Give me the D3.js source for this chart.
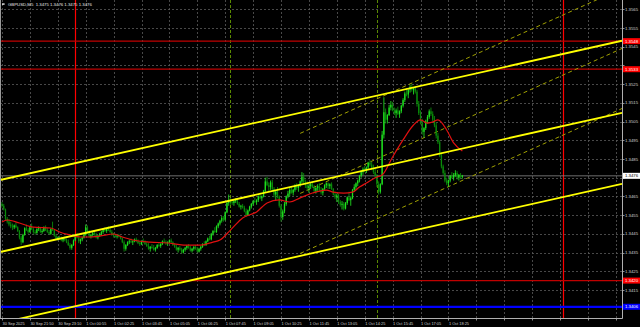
<!DOCTYPE html>
<html><head><meta charset="utf-8">
<script src="https://cdn.jsdelivr.net/npm/d3@7"></script>
<style>html,body{margin:0;padding:0;background:#000;overflow:hidden}</style>
</head><body>
<svg id="c" width="640" height="327"></svg>
<script>
// ---------------- DATA ----------------
const symbolTitle = "GBPUSD,M5  1.3475 1.3476 1.3475 1.3476";
const firstOpen = 1.3461;
const closes = [
1.3460,1.3458,1.3453,1.34515,1.3450,1.3449,1.34485,1.34495,1.34485,1.34465,
1.3443,1.34405,1.34445,1.3448,1.3447,1.3446,1.34485,1.34475,1.3446,1.34455,
1.34475,1.3448,1.3446,1.34465,1.34485,1.3447,1.3446,1.3445,1.34475,1.3447,
1.3444,1.34425,1.3443,1.34425,1.34415,1.34425,1.34415,1.34405,1.3439,1.34375,
1.3439,1.34415,1.3444,1.3443,1.3441,1.3442,1.3443,1.34445,1.34485,1.3446,
1.34435,1.34445,1.34455,1.34445,1.3443,1.3444,1.3445,1.3446,1.3447,1.34465,
1.34475,1.3447,1.3446,1.34445,1.3444,1.34435,1.3444,1.34435,1.34425,1.34405,
1.3437,1.3439,1.34405,1.3441,1.34405,1.3441,1.3442,1.3441,1.3440,1.34395,
1.3441,1.34405,1.34395,1.34385,1.3437,1.3438,1.34375,1.34365,1.34375,1.3439,
1.34385,1.34395,1.3441,1.34405,1.3440,1.34405,1.34415,1.34405,1.3439,1.3438,
1.34365,1.34375,1.34365,1.3435,1.34365,1.34375,1.34385,1.34375,1.3436,1.3437,
1.3438,1.3437,1.34355,1.3437,1.3438,1.34395,1.3439,1.3441,1.34425,1.3442,
1.3445,1.34465,1.3446,1.3449,1.34505,1.3452,1.34535,1.34525,1.34565,1.34615,
1.3463,1.3462,1.34615,1.34625,1.3463,1.3461,1.34595,1.3460,1.3459,1.3457,
1.3455,1.34575,1.34595,1.3461,1.34625,1.3462,1.3463,1.3465,1.3464,1.3465,
1.3468,1.3473,1.3471,1.3470,1.34725,1.3469,1.3466,1.34675,1.3465,1.3460,
1.3454,1.3457,1.3461,1.3465,1.34665,1.34685,1.3467,1.34685,1.34705,1.34695,
1.3471,1.3473,1.34755,1.34725,1.3471,1.34695,1.34705,1.34715,1.3470,1.3468,
1.34695,1.34705,1.34685,1.3467,1.3469,1.3471,1.3472,1.34705,1.34715,1.3469,
1.3466,1.34645,1.34655,1.3462,1.34605,1.3461,1.34585,1.34615,1.34645,1.3463,
1.3464,1.34685,1.3470,1.3472,1.34735,1.3476,1.3478,1.34795,1.3479,1.34805,
1.3483,1.3482,1.3480,1.3478,1.3476,1.34715,1.34675,1.34715,1.3498,1.3510,
1.3506,1.35085,1.35125,1.3514,1.3511,1.35095,1.3511,1.3509,1.35105,1.35135,
1.35165,1.3520,1.35195,1.3522,1.35235,1.3522,1.3523,1.3521,1.35145,1.35095,
1.35045,1.34995,1.35015,1.35055,1.35075,1.35105,1.3509,1.3506,1.3503,1.34975,
1.3494,1.3487,1.3481,1.34775,1.34735,1.3472,1.34735,1.3476,1.3475,1.34765,
1.34775,1.3475,1.34765,1.34755,1.3476];
const highs = [
1.3462,1.3461,1.34585,1.3454,1.3453,1.34515,1.34505,1.3450,1.3451,1.3449,
1.3447,1.3444,1.3445,1.34485,1.3450,1.3448,1.3449,1.34505,1.34485,1.3447,
1.3448,1.3449,1.34485,1.34475,1.3449,1.34495,1.3448,1.3447,1.3448,1.34515,
1.34475,1.3445,1.34435,1.3444,1.34435,1.3443,1.34435,1.34425,1.3442,1.3440,
1.34395,1.3442,1.34445,1.34455,1.3444,1.34425,1.34435,1.3445,1.3450,1.34495,
1.3447,1.3445,1.3446,1.34465,1.34455,1.34445,1.34455,1.34465,1.34475,1.34485,
1.3448,1.3449,1.3448,1.3447,1.34455,1.3445,1.34445,1.3445,1.3444,1.3443,
1.34415,1.34395,1.3441,1.3442,1.34425,1.34415,1.34425,1.3443,1.3442,1.3441,
1.34415,1.34425,1.34415,1.34405,1.3440,1.34385,1.34395,1.3439,1.3438,1.34395,
1.34405,1.3440,1.34415,1.34425,1.34415,1.3441,1.3442,1.34425,1.3441,1.3440,
1.3439,1.3438,1.34385,1.34375,1.3437,1.3438,1.3439,1.34395,1.34385,1.34375,
1.34385,1.3439,1.3438,1.34375,1.34385,1.3440,1.3441,1.34415,1.3443,1.3444,
1.34455,1.3447,1.34485,1.34495,1.3451,1.34525,1.34545,1.34545,1.3457,1.3462,
1.3466,1.3464,1.34635,1.3463,1.3464,1.34635,1.3462,1.34605,1.3461,1.3460,
1.34585,1.3458,1.3460,1.34615,1.3463,1.34645,1.34635,1.34655,1.3467,1.34655,
1.34685,1.3475,1.34755,1.34725,1.34735,1.3474,1.3470,1.34685,1.3470,1.34655,
1.3461,1.3458,1.3462,1.34655,1.3468,1.34695,1.3470,1.3469,1.34715,1.3472,
1.34715,1.34735,1.3478,1.34775,1.3474,1.3473,1.34715,1.34725,1.3473,1.3471,
1.3470,1.34715,1.3472,1.3470,1.34695,1.34715,1.34725,1.34725,1.3472,1.34725,
1.34695,1.34675,1.34665,1.34665,1.3463,1.34625,1.3462,1.3462,1.3465,1.34675,
1.3465,1.3469,1.34715,1.34725,1.3474,1.34765,1.3479,1.34805,1.34815,1.3481,
1.34835,1.34845,1.34835,1.3482,1.3480,1.3477,1.3473,1.3472,1.3500,1.3518,
1.3512,1.3509,1.3514,1.3516,1.35155,1.35125,1.3512,1.3513,1.3511,1.3514,
1.35175,1.3521,1.3523,1.35225,1.35245,1.3525,1.35235,1.3524,1.3522,1.3516,
1.3511,1.35065,1.3502,1.3506,1.35085,1.35115,1.35125,1.35105,1.3508,1.35045,
1.3499,1.3495,1.34885,1.3482,1.3479,1.3475,1.3474,1.34765,1.3478,1.34775,
1.3479,1.34785,1.3477,1.34775,1.34765];
const lows = [
1.3459,1.34575,1.3452,1.34505,1.3449,1.3448,1.3447,1.34475,1.3448,1.3446,
1.3442,1.3439,1.3440,1.3444,1.34465,1.3445,1.34455,1.3447,1.3445,1.34445,
1.3445,1.34465,1.34455,1.3445,1.3446,1.34465,1.34455,1.34445,1.34445,1.34465,
1.34435,1.3442,1.34415,1.3442,1.3441,1.34405,1.3441,1.3440,1.34385,1.34365,
1.34365,1.34385,1.3441,1.34425,1.3440,1.34395,1.3441,1.34425,1.3444,1.3445,
1.3443,1.34425,1.34435,1.3444,1.34425,1.3442,1.34435,1.3444,1.3445,1.3446,
1.34455,1.34465,1.34455,1.3444,1.3443,1.3443,1.34425,1.3443,1.3442,1.3440,
1.34355,1.3436,1.34385,1.34395,1.3440,1.3439,1.34405,1.34405,1.34395,1.34385,
1.3439,1.3440,1.3439,1.3438,1.34365,1.34355,1.3437,1.3436,1.34355,1.3437,
1.3438,1.34375,1.3439,1.3440,1.3439,1.34385,1.3440,1.3440,1.34385,1.34375,
1.3436,1.3435,1.3436,1.34345,1.34345,1.34355,1.34365,1.3437,1.34355,1.3435,
1.3436,1.34365,1.3435,1.3435,1.3436,1.34375,1.34385,1.34385,1.34405,1.34415,
1.34415,1.3444,1.34455,1.34455,1.3448,1.34495,1.3451,1.34515,1.3452,1.3456,
1.3460,1.34605,1.34605,1.3460,1.34615,1.34605,1.3459,1.3458,1.34585,1.34565,
1.3454,1.34545,1.3457,1.34585,1.3460,1.34615,1.34605,1.3462,1.34635,1.34625,
1.34645,1.3467,1.34705,1.34675,1.34685,1.3468,1.34645,1.3463,1.3464,1.3459,
1.34515,1.34525,1.3456,1.3460,1.3464,1.3465,1.34665,1.34655,1.34675,1.34685,
1.34675,1.3470,1.3472,1.34715,1.34695,1.34685,1.3467,1.3469,1.34695,1.3467,
1.34665,1.3468,1.34675,1.3466,1.34655,1.3468,1.34695,1.3469,1.3469,1.34685,
1.34655,1.34635,1.3462,1.3461,1.34595,1.3458,1.34575,1.3458,1.34605,1.34625,
1.3460,1.34635,1.34675,1.34685,1.34705,1.34725,1.3475,1.34765,1.3478,1.34775,
1.34795,1.3481,1.3479,1.3477,1.3475,1.3470,1.3466,1.34665,1.3471,1.3496,
1.3504,1.3504,1.3508,1.3511,1.35105,1.35085,1.3507,1.35085,1.3507,1.35095,
1.35125,1.35155,1.35185,1.35175,1.35205,1.3521,1.35195,1.3520,1.3513,1.35085,
1.35035,1.3498,1.34965,1.35005,1.3504,1.35065,1.3508,1.3505,1.3502,1.3496,
1.3493,1.3486,1.3480,1.34765,1.34725,1.3471,1.3470,1.34725,1.34745,1.34735,
1.34755,1.3474,1.34735,1.34745,1.34745];
// moving average (red), read at sample bars
const maBars = [0,3,10,18,28,33,39,45,50,56,64,69,75,85,95,104,114,121,125,131,138,146,152,159,165,171,178,186,190,196,201,205,209,215,218,224,230,236,240,244,247,250,255,259,264];
const maValues = [1.34513,1.34524,1.34508,1.34486,1.34481,1.34460,1.34444,1.34433,1.34433,1.34438,1.34449,1.34433,1.34417,1.34406,1.34401,1.34390,1.34390,1.34406,1.34417,1.34470,1.34535,1.34567,1.34615,1.34631,1.34620,1.34642,1.34668,1.34684,1.34673,1.34668,1.34673,1.34700,1.34722,1.34754,1.34764,1.34861,1.34952,1.35032,1.35059,1.35042,1.35048,1.35059,1.35005,1.34936,1.34893];
const priceTicks = [1.3415,1.3425,1.3435,1.3445,1.3455,1.3465,1.3475,1.3485,1.3495,1.3505,1.3515,1.3525,1.3535,1.3545,1.3555,1.3565];
const timeTickBars = [0,16,32,48,64,80,96,112,128,144,160,176,192,208,224,240,256,272,288,304,320,336,352];
const timeTickLabels = ["30 Sep 2025","30 Sep 21:50","30 Sep 23:10","1 Oct 00:55","1 Oct 02:25","1 Oct 03:45","1 Oct 05:05","1 Oct 06:25","1 Oct 07:45","1 Oct 09:05","1 Oct 10:25","1 Oct 11:45","1 Oct 13:05","1 Oct 14:25","1 Oct 15:45","1 Oct 17:05","1 Oct 18:25"];
const redLevels = [1.3548, 1.3533, 1.3420];
const blueLevel = 1.3406;
const currentPrice = 1.3476;
const daySeparatorBars = [42, 322];
const sessionBars = [131, 215];
// solid yellow channel lines: [[bar, price],[bar, price]]
const channelLines = [
  [[0,1.34740],[320,1.35408]],
  [[0,1.34355],[320,1.35023]],
  [[0,1.33975],[320,1.34643]]
];
// dashed yellow channel (rays to the right)
const dashedLines = [
  [[171,1.34987],[337,1.35684]],
  [[171,1.34666],[337,1.35363]],
  [[171,1.34345],[337,1.35042]]
];

// ---------------- DRAW ----------------
const W = 640, H = 327, plotR = 622, plotB = 318;
const svg = d3.select("#c");
svg.append("rect").attr("width", W).attr("height", H).attr("fill", "#000");

const x = d3.scaleLinear().domain([0, 16]).range([2, 29.9]);
const y = d3.scaleLinear().domain([1.34, 1.357]).range([plotB, 0]);
const font = "'Liberation Sans', Arial, sans-serif";

svg.append("clipPath").attr("id", "plot").append("rect")
  .attr("x", 0).attr("y", 0).attr("width", plotR).attr("height", plotB);
const g = svg.append("g").attr("clip-path", "url(#plot)");

// grid
g.selectAll(".hg").data(priceTicks).join("line")
  .attr("x1", 0).attr("x2", plotR)
  .attr("y1", d => Math.round(y(d)) + 0.5).attr("y2", d => Math.round(y(d)) + 0.5)
  .attr("stroke", "#5a5a5a").attr("stroke-width", 0.8).attr("stroke-dasharray", "2,2");
g.selectAll(".vg").data(timeTickBars).join("line")
  .attr("y1", 0).attr("y2", plotB)
  .attr("x1", d => Math.round(x(d)) + 0.5).attr("x2", d => Math.round(x(d)) + 0.5)
  .attr("stroke", "#5a5a5a").attr("stroke-width", 0.8).attr("stroke-dasharray", "2,2");

// session (green dashed) verticals
g.selectAll(".sv").data(sessionBars).join("line")
  .attr("y1", 0).attr("y2", plotB)
  .attr("x1", d => Math.round(x(d)) + 0.5).attr("x2", d => Math.round(x(d)) + 0.5)
  .attr("stroke", "#5a8a00").attr("stroke-width", 1).attr("stroke-dasharray", "3,2");

// day separators
g.selectAll(".dv").data(daySeparatorBars).join("line")
  .attr("y1", 0).attr("y2", plotB)
  .attr("x1", d => Math.round(x(d)) + 0.5).attr("x2", d => Math.round(x(d)) + 0.5)
  .attr("stroke", "#ff0000").attr("stroke-width", 1.2);

// horizontal levels
g.selectAll(".rl").data(redLevels).join("line")
  .attr("x1", 0).attr("x2", plotR).attr("y1", d => y(d)).attr("y2", d => y(d))
  .attr("stroke", "#c00000").attr("stroke-width", 1.3);
g.append("line").attr("x1", 0).attr("x2", plotR).attr("y1", y(blueLevel)).attr("y2", y(blueLevel))
  .attr("stroke", "#0000ff").attr("stroke-width", 2.2);
g.append("line").attr("x1", 0).attr("x2", plotR).attr("y1", y(currentPrice)).attr("y2", y(currentPrice))
  .attr("stroke", "#8a8a8a").attr("stroke-width", 0.8);

// line helper: extend a two-point line across a bar range
function seg(l, b0, b1) {
  const [[xa, pa], [xb, pb]] = l;
  const k = (pb - pa) / (xb - xa);
  return [[x(b0), y(pa + k * (b0 - xa))], [x(b1), y(pa + k * (b1 - xa))]];
}
const leftBar = x.invert(0), rightBar = x.invert(plotR);
const lineGen = d3.line();

// dashed channel
dashedLines.forEach(l => {
  g.append("path").attr("d", lineGen(seg(l, l[0][0], rightBar)))
    .attr("fill", "none").attr("stroke", "#a0a000").attr("stroke-width", 1)
    .attr("stroke-dasharray", "4,3");
});

// candles
const bars = closes.map((c, i) => ({
  i, o: i === 0 ? firstOpen : closes[i - 1], c, h: highs[i], l: lows[i]
}));
const cg = g.append("g");
cg.selectAll(".wk").data(bars).join("line")
  .attr("x1", d => x(d.i)).attr("x2", d => x(d.i))
  .attr("y1", d => y(d.h)).attr("y2", d => y(d.l))
  .attr("stroke", d => d.c >= d.o ? "#22f022" : "#0c9a0c").attr("stroke-width", 0.8);
cg.selectAll(".bd").data(bars).join("rect")
  .attr("x", d => x(d.i) - 0.65).attr("width", 1.3)
  .attr("y", d => y(Math.max(d.o, d.c)))
  .attr("height", d => Math.max(0.6, Math.abs(y(d.o) - y(d.c))))
  .attr("fill", d => d.c >= d.o ? "#1ee01e" : "#0a8a0a");

// moving average
g.append("path")
  .attr("d", d3.line().x(d => x(d[0])).y(d => y(d[1])).curve(d3.curveMonotoneX)(maBars.map((b, i) => [b, maValues[i]])))
  .attr("fill", "none").attr("stroke", "#e01010").attr("stroke-width", 1.2);

// solid channel lines
channelLines.forEach(l => {
  g.append("path").attr("d", lineGen(seg(l, leftBar, rightBar)))
    .attr("fill", "none").attr("stroke", "#ffff00").attr("stroke-width", 1.8);
});

// frame
svg.append("line").attr("x1", 0.5).attr("x2", 0.5).attr("y1", 0).attr("y2", plotB).attr("stroke", "#9a9a9a").attr("stroke-width", 1);
svg.append("line").attr("x1", plotR + 0.5).attr("x2", plotR + 0.5).attr("y1", 0).attr("y2", plotB + 0.5).attr("stroke", "#b0b0b0").attr("stroke-width", 1);
svg.append("line").attr("x1", 0).attr("x2", plotR + 0.5).attr("y1", plotB + 0.5).attr("y2", plotB + 0.5).attr("stroke", "#b0b0b0").attr("stroke-width", 1);

// price axis (grid labels hidden where a level tag covers them)
const fmt = d3.format(".4f");
const tagPrices = redLevels.concat([blueLevel, currentPrice]);
const visibleTicks = priceTicks.filter(p => tagPrices.every(t => Math.abs(y(t) - y(p)) > 5.5));
svg.selectAll(".pt").data(priceTicks).join("line")
  .attr("x1", plotR).attr("x2", plotR + 2.5)
  .attr("y1", d => Math.round(y(d)) + 0.5).attr("y2", d => Math.round(y(d)) + 0.5)
  .attr("stroke", "#b0b0b0").attr("stroke-width", 0.8);
svg.selectAll(".pl").data(visibleTicks).join("text")
  .attr("x", 625).attr("y", d => y(d) + 1.6)
  .attr("font-family", font).attr("font-size", 4.3).attr("fill", "#d0d0d0")
  .text(d => fmt(d));

function tag(p, bg, fg) {
  svg.append("rect").attr("x", 623).attr("y", y(p) - 3).attr("width", 17).attr("height", 6).attr("fill", bg);
  svg.append("text").attr("x", 625).attr("y", y(p) + 1.6)
    .attr("font-family", font).attr("font-size", 4.3).attr("fill", fg).text(fmt(p));
}
redLevels.forEach(p => tag(p, "#ff0000", "#ffffff"));
tag(blueLevel, "#0000ff", "#ffffff");
tag(currentPrice, "#ffffff", "#000000");

// time axis
svg.selectAll(".tt").data(timeTickBars).join("line")
  .attr("x1", d => Math.round(x(d)) + 0.5).attr("x2", d => Math.round(x(d)) + 0.5)
  .attr("y1", plotB).attr("y2", plotB + 2.5)
  .attr("stroke", "#b0b0b0").attr("stroke-width", 0.8);
svg.selectAll(".tl").data(timeTickLabels).join("text")
  .attr("x", (d, i) => x(timeTickBars[i]) + 0.5).attr("y", 325)
  .attr("font-family", font).attr("font-size", 3.9).attr("fill", "#d0d0d0")
  .text(d => d);

// title
svg.append("rect").attr("x", 2).attr("y", 3.4).attr("width", 2.6).attr("height", 1.3).attr("fill", "#ffffff");
svg.append("text").attr("x", 8).attr("y", 6)
  .attr("font-family", font).attr("font-size", 4.3).attr("fill", "#e8e8e8")
  .attr("xml:space", "preserve").style("white-space", "pre")
  .text(symbolTitle);
</script>
</body></html>
